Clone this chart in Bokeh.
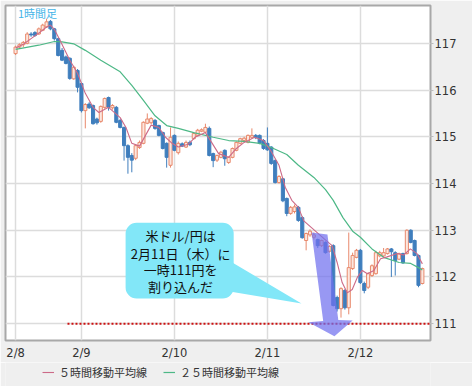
from bokeh.plotting import figure
from bokeh.layouts import column
from bokeh.models import (ColumnDataSource, FixedTicker, BoxAnnotation, PolyAnnotation,
                          Label, Legend, LegendItem)
from bokeh.embed import file_html
from bokeh.resources import INLINE

# ---------------- data ----------------
date_labels = ["2/8", "2/9", "2/10", "2/11", "2/12"]
date_bar_index = [0, 17, 41, 65, 89]
price_ticks = [111, 112, 113, 114, 115, 116, 117]

opens = [116.78, 116.92, 116.97, 117.00, 117.20, 117.23, 117.20, 117.28, 117.35, 117.47,
         117.31, 117.10, 116.85, 116.71, 116.68, 116.24, 116.42, 116.14, 115.56, 115.70,
         115.67, 115.38, 115.33, 115.63, 115.84, 115.62, 115.63, 115.35, 115.20, 114.81,
         114.60, 114.54, 114.77, 114.86, 115.29, 115.30, 115.35, 115.24, 115.09, 114.86,
         114.39, 115.03, 114.66, 114.85, 114.78, 114.88, 114.96, 115.03, 115.12, 115.10,
         115.18, 114.64, 114.50, 114.56, 114.71, 114.45, 114.56, 114.71, 114.86, 114.92,
         114.88, 114.99, 115.03, 115.03, 114.92, 114.86, 114.78, 114.49, 114.02, 114.10,
         113.68, 113.36, 113.40, 113.49, 113.27, 112.78, 112.90, 112.85, 112.80, 112.67,
         112.74, 112.55, 112.67, 111.56, 111.32, 111.71, 111.34, 112.18, 112.42, 112.57,
         111.86, 111.78, 112.03, 112.07, 112.45, 112.45, 112.50, 112.60, 112.52, 112.38,
         112.50, 112.50, 113.00, 112.78, 112.46, 111.86]
highs = [116.95, 117.00, 117.05, 117.24, 117.24, 117.26, 117.34, 117.42, 117.53, 117.50,
         117.33, 117.12, 116.90, 116.74, 116.70, 116.52, 116.45, 116.16, 115.72, 115.74,
         115.69, 115.41, 115.67, 115.84, 115.86, 115.70, 115.66, 115.38, 115.22, 114.84,
         114.65, 114.84, 114.92, 115.33, 115.50, 115.42, 115.38, 115.26, 115.11, 114.88,
         115.20, 115.05, 114.90, 114.88, 114.92, 114.92, 115.10, 115.17, 115.18, 115.28,
         115.22, 114.66, 114.62, 114.70, 114.73, 114.58, 114.77, 114.90, 114.98, 115.00,
         115.05, 115.18, 115.06, 115.05, 114.95, 115.20, 114.80, 114.52, 114.18, 114.12,
         113.70, 113.52, 113.55, 113.52, 113.30, 112.95, 113.02, 112.95, 112.82, 112.80,
         112.76, 112.68, 112.70, 111.60, 111.78, 111.74, 112.95, 112.52, 112.60, 112.60,
         111.90, 112.10, 112.27, 112.56, 112.56, 112.62, 112.62, 112.62, 112.55, 112.52,
         112.52, 113.02, 113.02, 112.80, 112.48, 112.20]
lows = [116.75, 116.88, 116.92, 116.98, 117.14, 117.14, 117.18, 117.26, 117.33, 117.28,
        117.06, 116.72, 116.62, 116.55, 116.22, 116.22, 115.95, 115.52, 115.18, 115.60,
        115.26, 115.26, 115.30, 115.60, 115.56, 115.58, 115.29, 115.18, 114.49, 114.21,
        114.24, 114.50, 114.74, 114.84, 115.27, 115.27, 115.15, 115.01, 114.73, 114.34,
        114.34, 114.69, 114.62, 114.78, 114.76, 114.80, 114.94, 115.01, 115.10, 115.08,
        114.58, 114.35, 114.46, 114.54, 114.38, 114.42, 114.54, 114.69, 114.84, 114.90,
        114.86, 114.96, 114.95, 114.84, 114.72, 114.70, 114.40, 114.00, 114.00, 113.60,
        113.30, 113.33, 113.36, 113.18, 112.82, 112.57, 112.86, 112.80, 112.62, 112.64,
        112.50, 112.52, 111.37, 111.26, 111.13, 111.30, 111.20, 112.15, 112.40, 111.85,
        111.65, 111.74, 112.00, 112.05, 112.42, 112.42, 112.48, 112.00, 112.03, 112.36,
        112.28, 112.48, 112.72, 112.44, 111.78, 111.84]
closes = [116.92, 116.97, 117.02, 117.20, 117.18, 117.17, 117.31, 117.39, 117.46, 117.31,
          117.10, 116.74, 116.64, 116.57, 116.25, 116.49, 116.06, 115.56, 115.69, 115.62,
          115.28, 115.30, 115.65, 115.82, 115.63, 115.67, 115.31, 115.20, 114.81, 114.56,
          114.50, 114.81, 114.88, 115.31, 115.38, 115.39, 115.18, 115.03, 114.75, 114.56,
          114.99, 114.71, 114.86, 114.80, 114.88, 114.83, 115.07, 115.14, 115.15, 115.20,
          114.60, 114.49, 114.60, 114.67, 114.53, 114.56, 114.75, 114.88, 114.96, 114.97,
          115.03, 115.03, 114.98, 114.86, 114.75, 114.72, 114.43, 114.02, 114.15, 113.63,
          113.36, 113.49, 113.50, 113.21, 112.84, 112.93, 112.98, 112.90, 112.67, 112.78,
          112.52, 112.65, 111.39, 111.32, 111.75, 111.34, 112.20, 112.46, 112.57, 111.88,
          111.71, 112.07, 112.24, 112.52, 112.52, 112.52, 112.60, 112.54, 112.35, 112.50,
          112.30, 113.00, 112.74, 112.46, 111.82, 112.18]

ma5_index = [0, 2, 4, 6, 8, 9, 10, 11.5, 14, 16, 18, 20, 21.5, 24, 27, 28.5, 30, 32, 33, 35,
             37, 38.7, 40.4, 42, 44.6, 46.3, 49, 50.6, 52.4, 55, 57, 59, 61.7, 64, 65.8, 68,
             69.6, 71.3, 73, 74.4, 76.6, 79.6, 81.7, 83, 84.3, 85.6, 86.9, 88.2, 89.5, 90.8,
             92.5, 94.2, 95.9, 98.5, 100.2, 101.9, 103.6, 105]
ma5_values = [116.90, 116.98, 117.10, 117.22, 117.35, 117.39, 117.30, 117.06, 116.64, 116.36,
              115.93, 115.63, 115.52, 115.63, 115.41, 115.20, 114.86, 114.80, 114.95, 115.25,
              115.20, 114.99, 114.86, 114.78, 114.84, 114.99, 115.09, 114.88, 114.64, 114.56,
              114.75, 114.88, 114.99, 114.92, 114.71, 114.39, 113.92, 113.64, 113.49, 113.20,
              113.04, 112.82, 112.67, 112.31, 111.88, 111.66, 111.73, 111.99, 112.14, 112.07,
              112.14, 112.39, 112.43, 112.50, 112.47, 112.60, 112.50, 112.28]

ma25_index = [0, 6, 10, 12, 15, 18, 22, 27, 30, 33, 36, 39, 42, 46, 51, 55, 59, 63, 66, 70,
              73, 77, 80, 82, 84.5, 87, 89, 92, 95, 99, 102, 104, 105]
ma25_values = [116.87, 116.96, 117.04, 117.03, 116.99, 116.85, 116.64, 116.39, 116.10, 115.78,
               115.45, 115.24, 115.18, 115.09, 114.99, 114.92, 114.90, 114.86, 114.77, 114.62,
               114.39, 114.13, 113.87, 113.64, 113.27, 112.98, 112.85, 112.60, 112.42, 112.31,
               112.29, 112.20, 112.15]

support_level = 111
legend_labels = ["５時間移動平均線", "２５時間移動平均線"]
callout_lines = ["米ドル/円は", "2月11日（木）に", "一時111円を", "割り込んだ"]
timeframe_label = "1時間足"

# ---------------- styles ----------------
UP_FILL, UP_LINE = "#FCE7DF", "#E8896C"
DN_FILL, DN_LINE = "#3F7EBD", "#3F7EBD"
MA5_COLOR, MA25_COLOR = "#CC6A88", "#4DB886"
PANEL = "#EFEFEF"
JP = "Noto Sans CJK JP"

p = figure(frame_width=425, frame_height=335, x_range=(-2.6, 107.1), y_range=(110.64, 117.81),
           y_axis_location="right", output_backend="svg", toolbar_location=None,
           min_border_left=5, min_border_top=5, min_border_right=42, min_border_bottom=20,
           background_fill_color="white", border_fill_color=PANEL,
           outline_line_color="#A8A8A8", outline_line_width=2)

idx = list(range(len(opens)))
up = [c >= o for o, c in zip(opens, closes)]
src = ColumnDataSource(dict(
    x=idx, high=highs, low=lows,
    top=[max(o, c) for o, c in zip(opens, closes)],
    bottom=[min(o, c) for o, c in zip(opens, closes)],
    fill=[UP_FILL if u else DN_FILL for u in up],
    line=[UP_LINE if u else DN_LINE for u in up],
))

p.segment(x0="x", x1="x", y0="low", y1="high", source=src, line_color="line", line_width=1)
p.vbar(x="x", width=0.8, top="top", bottom="bottom", source=src,
       fill_color="fill", line_color="line", line_width=1)

p.line(ma25_index, ma25_values, line_color=MA25_COLOR, line_width=1.2)
p.line(ma5_index, ma5_values, line_color=MA5_COLOR, line_width=1.1)

# red dotted support line at 111
p.segment(x0=[13.4], x1=[107.1], y0=[support_level], y1=[support_level],
          line_color="#CC1111", line_width=2, line_dash="2 2")

# big translucent arrow
arrow_x = [76.4, 80.5, 83.3, 87.0, 82.3, 75.6, 79.4]
arrow_y = [112.95, 112.91, 111.08, 111.07, 110.73, 111.03, 111.06]
p.patch(arrow_x, arrow_y, fill_color="#7070EE", fill_alpha=0.72, line_alpha=0)

# callout
p.add_layout(PolyAnnotation(xs=[55.5, 73.8, 54.5], ys=[112.33, 111.43, 111.70],
                            fill_color="#82E7F8", fill_alpha=1, line_alpha=0))
p.add_layout(BoxAnnotation(left=28.4, right=56.3, top=113.16, bottom=111.54,
                           fill_color="#82E7F8", fill_alpha=1, line_alpha=0,
                           border_radius=11))
for text, yy in zip(callout_lines, [112.89, 112.50, 112.15, 111.80]):
    p.add_layout(Label(x=42.6, y=yy, text=text, text_align="center", text_baseline="middle",
                       text_font=JP, text_font_size="13px", text_color="#111111"))

p.add_layout(Label(x=0.6, y=117.64, text=timeframe_label, text_align="left",
                   text_baseline="middle", text_font=JP, text_font_size="11px",
                   text_color="#45B5E8"))

# axes
p.xaxis.ticker = FixedTicker(ticks=date_bar_index)
p.xaxis.major_label_overrides = dict(zip(date_bar_index, date_labels))
p.xaxis.axis_line_color = None
p.xaxis.major_tick_line_color = None
p.xaxis.major_tick_out = 0
p.xaxis.major_tick_in = 0
p.xaxis.minor_tick_line_color = None
p.xaxis.major_label_standoff = 5
p.xaxis.major_label_text_font = "DejaVu Sans"
p.xaxis.major_label_text_font_size = "11.5px"
p.xaxis.major_label_text_color = "#333333"

p.yaxis.ticker = FixedTicker(ticks=price_ticks)
p.yaxis.axis_line_color = None
p.yaxis.major_tick_in = 0
p.yaxis.major_tick_out = 3
p.yaxis.major_tick_line_color = "#BBBBBB"
p.yaxis.minor_tick_line_color = None
p.yaxis.major_label_standoff = 1
p.yaxis.major_label_text_font = "DejaVu Sans"
p.yaxis.major_label_text_font_size = "11.5px"
p.yaxis.major_label_text_color = "#333333"

p.xgrid.grid_line_color = "#DCDCDC"
p.xgrid.grid_line_width = 1.5
p.ygrid.grid_line_color = "#DCDCDC"
p.ygrid.grid_line_width = 1.5

# legend strip under the chart
lg = figure(width=472, height=24, x_range=(0, 1), y_range=(0, 1), output_backend="svg",
            toolbar_location=None, x_axis_type=None, y_axis_type=None, min_border=0,
            background_fill_color=PANEL, border_fill_color=PANEL, outline_line_color=None)
lg.xgrid.visible = False
lg.ygrid.visible = False
d5 = lg.line([-2, -1], [-2, -1], line_color=MA5_COLOR, line_width=1.1)
d25 = lg.line([-2, -1], [-2, -1], line_color=MA25_COLOR, line_width=1.2)
legend = Legend(items=[LegendItem(label=legend_labels[0], renderers=[d5]),
                       LegendItem(label=legend_labels[1], renderers=[d25])],
                orientation="horizontal", location=(37, 6),
                border_line_alpha=0, background_fill_alpha=0,
                label_text_font=JP, label_text_font_size="11px", label_text_color="#333333",
                glyph_width=12, glyph_height=12, label_standoff=5, spacing=16,
                padding=0, margin=0, label_height=14)
lg.add_layout(legend)

layout = column(p, lg, spacing=0)
open("out.html", "w").write(file_html(layout, INLINE))
